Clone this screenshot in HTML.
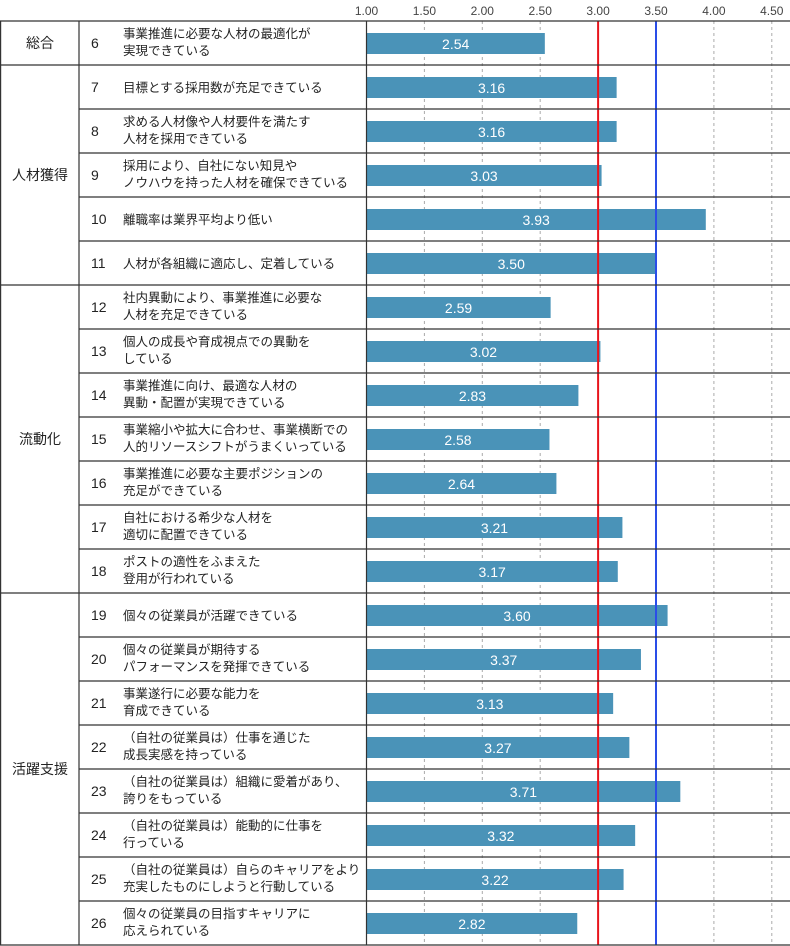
<!DOCTYPE html>
<html><head><meta charset="utf-8"><style>
html,body{margin:0;padding:0;background:#fff;}
svg{display:block;font-family:"Liberation Sans","Noto Sans CJK JP",sans-serif;}
</style></head><body>
<svg id="chart" width="790" height="946" viewBox="0 0 790 946"></svg>
<script>
const categories = ["6","7","8","9","10","11","12","13","14","15","16","17","18","19","20","21","22","23","24","25","26"];
const labels = [
 ["事業推進に必要な人材の最適化が","実現できている"],
 ["目標とする採用数が充足できている"],
 ["求める人材像や人材要件を満たす","人材を採用できている"],
 ["採用により、自社にない知見や","ノウハウを持った人材を確保できている"],
 ["離職率は業界平均より低い"],
 ["人材が各組織に適応し、定着している"],
 ["社内異動により、事業推進に必要な","人材を充足できている"],
 ["個人の成長や育成視点での異動を","している"],
 ["事業推進に向け、最適な人材の","異動・配置が実現できている"],
 ["事業縮小や拡大に合わせ、事業横断での","人的リソースシフトがうまくいっている"],
 ["事業推進に必要な主要ポジションの","充足ができている"],
 ["自社における希少な人材を","適切に配置できている"],
 ["ポストの適性をふまえた","登用が行われている"],
 ["個々の従業員が活躍できている"],
 ["個々の従業員が期待する","パフォーマンスを発揮できている"],
 ["事業遂行に必要な能力を","育成できている"],
 ["（自社の従業員は）仕事を通じた","成長実感を持っている"],
 ["（自社の従業員は）組織に愛着があり、","誇りをもっている"],
 ["（自社の従業員は）能動的に仕事を","行っている"],
 ["（自社の従業員は）自らのキャリアをより","充実したものにしようと行動している"],
 ["個々の従業員の目指すキャリアに","応えられている"]
];
const values = [2.54,3.16,3.16,3.03,3.93,3.50,2.59,3.02,2.83,2.58,2.64,3.21,3.17,3.60,3.37,3.13,3.27,3.71,3.32,3.22,2.82];
const groups = ["総合","人材獲得","流動化","活躍支援"];
const groupSizes = [1,5,7,8];
const ticks = [1.00,1.50,2.00,2.50,3.00,3.50,4.00,4.50];
const refLines = [3.00,3.50];

(function(){
const svg = document.getElementById('chart');
const NS = 'http://www.w3.org/2000/svg';
const x0 = 366.5, pxPerUnit = 115.8, topY = 21, rowH = 44;
const xs = v => x0 + (v - 1) * pxPerUnit;
const ys = i => topY + i * rowH;
function mk(tag, attrs){const e=document.createElementNS(NS,tag);for(const k in attrs)e.setAttribute(k,attrs[k]);svg.appendChild(e);return e;}

ticks.forEach((t,i)=>{
  const tx = mk('text',{x:xs(t),y:15,'text-anchor':'middle','font-size':12,fill:'#444'});
  
  
  tx.textContent = t.toFixed(2);
  if(i>0 && !refLines.includes(t)){
    const g = mk('line',{x1:xs(t),x2:xs(t),y1:topY,y2:ys(21),stroke:'#aaa','stroke-dasharray':'3,3','stroke-width':1});
    
    
  }
});

categories.forEach((c,i)=>{
  const y = ys(i);
  const n = mk('text',{x:91,y:y+rowH/2+5,'font-size':14,fill:'#222'});
  
  
  n.textContent = c;
  const L = labels[i];
  L.forEach((s,j)=>{
    const t = mk('text',{x:123,y:(L.length===1? y+rowH/2+5 : y+17+j*17),'font-size':12.5,fill:'#222'});
    
    
    t.textContent = s;
  });
  const bw = xs(values[i]) - x0;
  const b = mk('rect',{x:x0,y:y+12,width:bw,height:21,fill:'#4a93b8'});
  
  
  const v = mk('text',{x:x0+bw/2,y:y+28,'text-anchor':'middle','font-size':14,fill:'#fff'});
  
  
  v.textContent = values[i].toFixed(2);
});

refLines.forEach((r,i)=>{
  const l = mk('line',{x1:xs(r),x2:xs(r),y1:topY,y2:ys(21),stroke:i===0?'#e8141c':'#2a4de8','stroke-width':2});
  
  
});

for(let i=0;i<=21;i++){
  const l = mk('line',{x1:79,x2:790,y1:ys(i),y2:ys(i),stroke:'#333','stroke-width':1.2});
  
  
}
let start=0;
groups.forEach((g,gi)=>{
  const yA = ys(start), yB = ys(start+groupSizes[gi]);
  const l = mk('line',{x1:0,x2:79,y1:yB,y2:yB,stroke:'#333','stroke-width':1.2});
  
  
  const t = mk('text',{x:40,y:(yA+yB)/2+5,'text-anchor':'middle','font-size':14,fill:'#222'});
  
  
  t.textContent = g;
  start += groupSizes[gi];
});
[0.6,79,x0].forEach(v=>{
  const l = mk('line',{x1:v,x2:v,y1:topY,y2:ys(21),stroke:'#333','stroke-width':1.2});
  
  
});
const tl = mk('line',{x1:0,x2:79,y1:topY,y2:topY,stroke:'#333','stroke-width':1.2});


})();
</script>
</body></html>
